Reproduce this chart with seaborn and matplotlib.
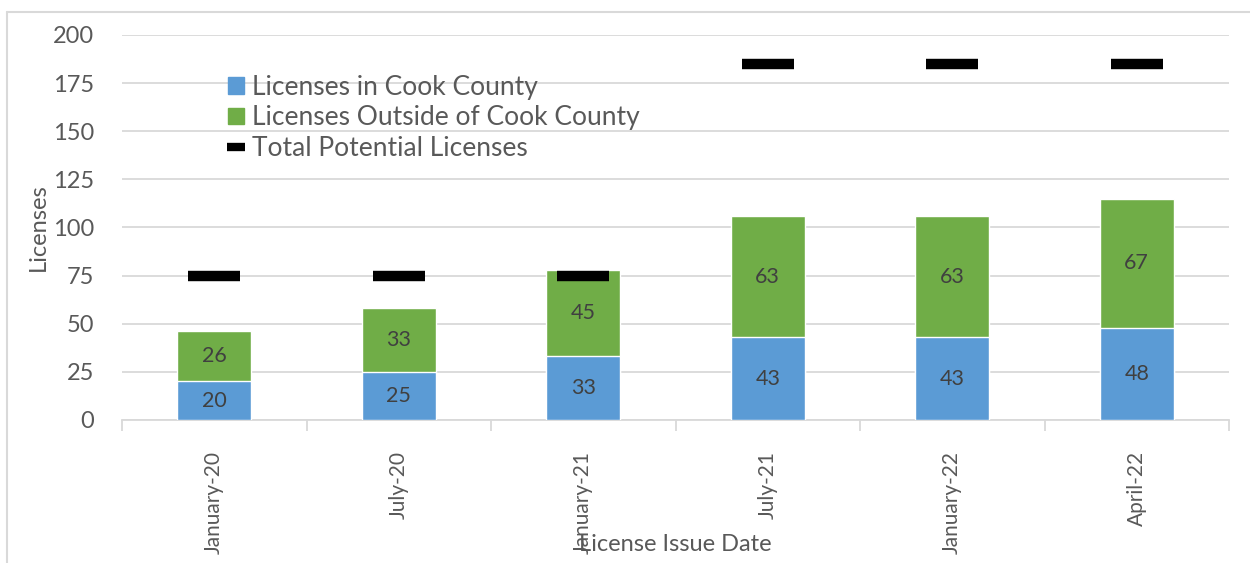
import matplotlib
matplotlib.use('Agg')
import matplotlib.pyplot as plt
from matplotlib.lines import Line2D
from matplotlib.patches import Patch
import numpy as np
import pandas as pd
import seaborn as sns

# Data
issue_dates = ['January-20', 'July-20', 'January-21', 'July-21', 'January-22', 'April-22']
cook_county = [20, 25, 33, 43, 43, 48]
outside_cook = [26, 33, 45, 63, 63, 67]
total_potential = [75, 75, 75, 185, 185, 185]

blue = '#5b9bd5'
green = '#70ad47'
text_grey = '#595959'
grid_grey = '#d9d9d9'

sns.set_theme(style='white')
plt.rcParams['font.family'] = ['Lato', 'DejaVu Sans']

df = pd.DataFrame({
    'date': issue_dates,
    'cook': cook_county,
    'outside': outside_cook,
    'potential': total_potential,
})
df['total'] = df['cook'] + df['outside']
df['pos'] = np.arange(len(df))

fig = plt.figure(figsize=(12.5, 5.63), dpi=100)
ax = fig.add_axes([0.0976, 0.254, 0.8856, 0.684])

# stacked bars: total (green) with cook county (blue) drawn over it
sns.barplot(data=df, x='date', y='total', color=green, width=0.4,
            saturation=1, ax=ax, zorder=2)
sns.barplot(data=df, x='date', y='cook', color=blue, width=0.4,
            saturation=1, ax=ax, zorder=3)

# total potential licenses as black dashes
sns.scatterplot(data=df, x='pos', y='potential', marker='_', s=1400,
                linewidth=7.5, color='black', ax=ax, zorder=4, legend=False)

# value labels
for _, r in df.iterrows():
    ax.text(r['pos'], r['cook'] / 2, f"{r['cook']}", ha='center', va='center',
            fontsize=15.5, color='#404040', zorder=5)
    ax.text(r['pos'], r['cook'] + r['outside'] / 2, f"{r['outside']}",
            ha='center', va='center', fontsize=15.5, color='#404040', zorder=5)

ax.set_xlim(-0.5, len(df) - 0.5)
ax.set_ylim(0, 200)
ax.set_yticks(np.arange(0, 201, 25))
ax.yaxis.grid(True, color=grid_grey, linewidth=1.3)
ax.set_axisbelow(True)
for side in ['top', 'right', 'left']:
    ax.spines[side].set_visible(False)
ax.spines['bottom'].set_color(grid_grey)
ax.spines['bottom'].set_linewidth(1.3)

ax.set_xticks(df['pos'])
ax.set_xticklabels(issue_dates, rotation=90)
ax.set_xticks(np.arange(-0.5, len(df), 1.0), minor=True)
ax.tick_params(axis='x', which='major', length=0, pad=22, labelsize=15, colors=text_grey)
ax.tick_params(axis='x', which='minor', length=8, width=1.3, color=grid_grey, bottom=True)
ax.tick_params(axis='y', length=0, pad=20, labelsize=17, colors=text_grey)

ax.set_xlabel('License Issue Date', fontsize=17, color=text_grey, labelpad=-14)
ax.set_ylabel('Licenses', fontsize=17, color=text_grey, labelpad=3)

handles = [
    Patch(color=blue, label='Licenses in Cook County'),
    Patch(color=green, label='Licenses Outside of Cook County'),
    Line2D([0], [0], linestyle='none', marker='_', markersize=13,
           markeredgewidth=6, color='black', label='Total Potential Licenses'),
]
ax.legend(handles=handles, loc='upper left', bbox_to_anchor=(0.084, 0.93),
          frameon=False, fontsize=19, labelcolor=text_grey,
          handlelength=0.6, handleheight=0.6, handletextpad=0.3,
          labelspacing=0.2, borderpad=0)

# outer chart frame
fig.add_artist(Line2D([0.0056, 0.0056], [0, 0.979], color=grid_grey, linewidth=1.5,
                      transform=fig.transFigure))
fig.add_artist(Line2D([0.0056, 1.0], [0.979, 0.979], color=grid_grey, linewidth=1.5,
                      transform=fig.transFigure))

fig.savefig('out.png', dpi=100)
